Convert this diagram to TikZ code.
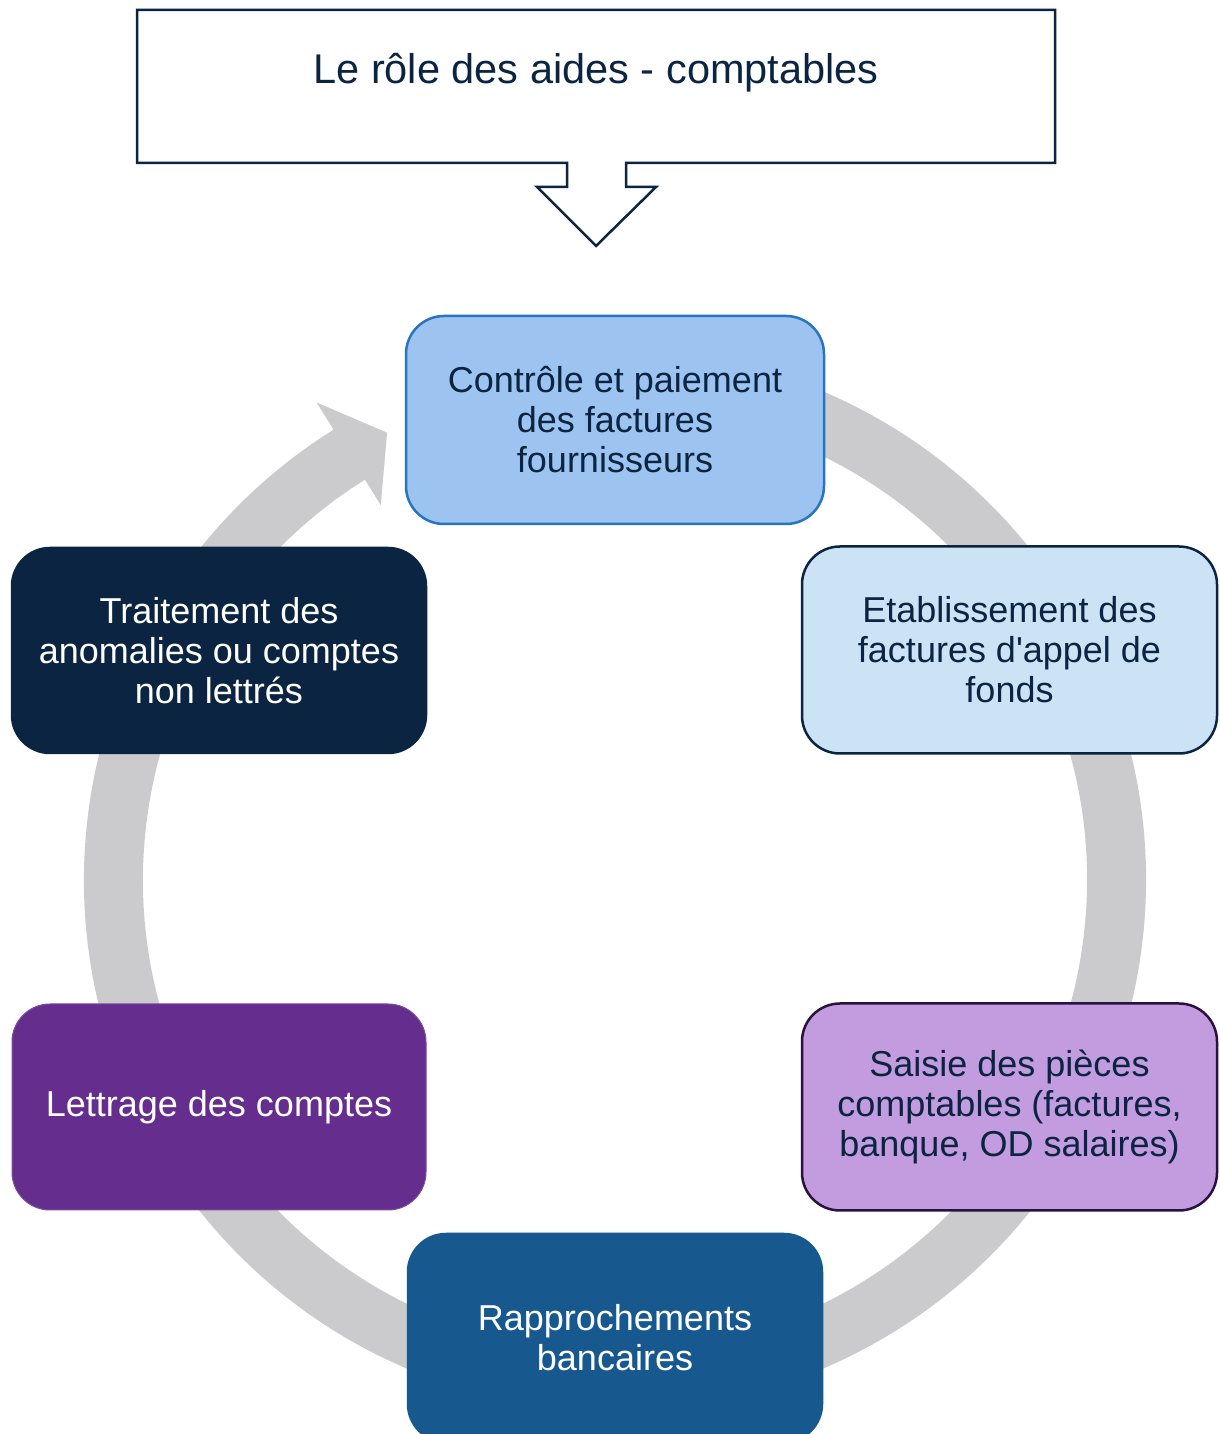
\documentclass[tikz,border=0pt]{standalone}
\usepackage{fontspec}
\setmainfont{Liberation Sans}
\definecolor{navy}{HTML}{0A2442}
\definecolor{ringgray}{HTML}{CBCBCD}
\definecolor{skyfill}{HTML}{9DC4F0}
\definecolor{skyline}{HTML}{2775C0}
\definecolor{palefill}{HTML}{CCE3F6}
\definecolor{lavfill}{HTML}{C39BDF}
\definecolor{lavline}{HTML}{2A1240}
\definecolor{bankblue}{HTML}{17588E}
\definecolor{purplefill}{HTML}{652D8E}
\begin{document}
\begin{tikzpicture}[x=1pt,y=1pt,
  stepbox/.style={rectangle, rounded corners=38pt, align=center, inner sep=0pt,
    font=\fontsize{36}{40}\selectfont, line width=2.5pt,
    minimum width=415pt, minimum height=207pt},
  darkbox/.style={stepbox, text=white},
  lightbox/.style={stepbox, text=navy}]
\useasboundingbox (0,0) rectangle (1219,1434);
\fill[white] (0,0) rectangle (1219,1434);
% title callout
\draw[navy, line width=2.5pt, fill=white, line join=miter]
  (137,1424) -- (1055,1424) -- (1055,1271) -- (626,1271) -- (626,1247)
  -- (656,1247) -- (596,1188) -- (537,1247) -- (567,1247) -- (567,1271)
  -- (137,1271) -- cycle;
\node[font=\fontsize{41.5}{46}\selectfont, text=navy] (title) at (596,1361) {Le rôle des aides - comptables};
% ring with arrow head
\fill[ringgray, shift={(615,554)}]
  (122:531) arc[start angle=122, end angle=440, radius=531]
  -- (440:472) arc[start angle=440, end angle=122, radius=472]
  -- (122:442) -- (117:502) -- (122:563) -- cycle;
% steps
\node[lightbox, fill=skyfill, draw=skyline, minimum width=418pt, minimum height=208pt] (s1) at (615,1014)
  {Contrôle et paiement\\des factures\\fournisseurs};
\node[lightbox, fill=palefill, draw=navy] (s2) at (1009.5,784)
  {Etablissement des\\factures d\textquotesingle appel de\\fonds};
\node[lightbox, fill=lavfill, draw=lavline] (s3) at (1009.5,327)
  {Saisie des pièces\\comptables (factures,\\banque, OD salaires)};
\node[darkbox, fill=bankblue, draw=bankblue, minimum width=414pt, minimum height=208pt] (s4) at (615,96)
  {Rapprochements\\bancaires};
\node[darkbox, fill=purplefill, draw=purplefill!85!white, line width=1pt, minimum width=414pt, minimum height=206pt] (s5) at (219,327)
  {Lettrage des comptes};
\node[darkbox, fill=navy, draw=navy, minimum width=414pt, minimum height=205pt] (s6) at (219,783.5)
  {Traitement des\\anomalies ou comptes\\non lettrés};
\end{tikzpicture}
\end{document}
